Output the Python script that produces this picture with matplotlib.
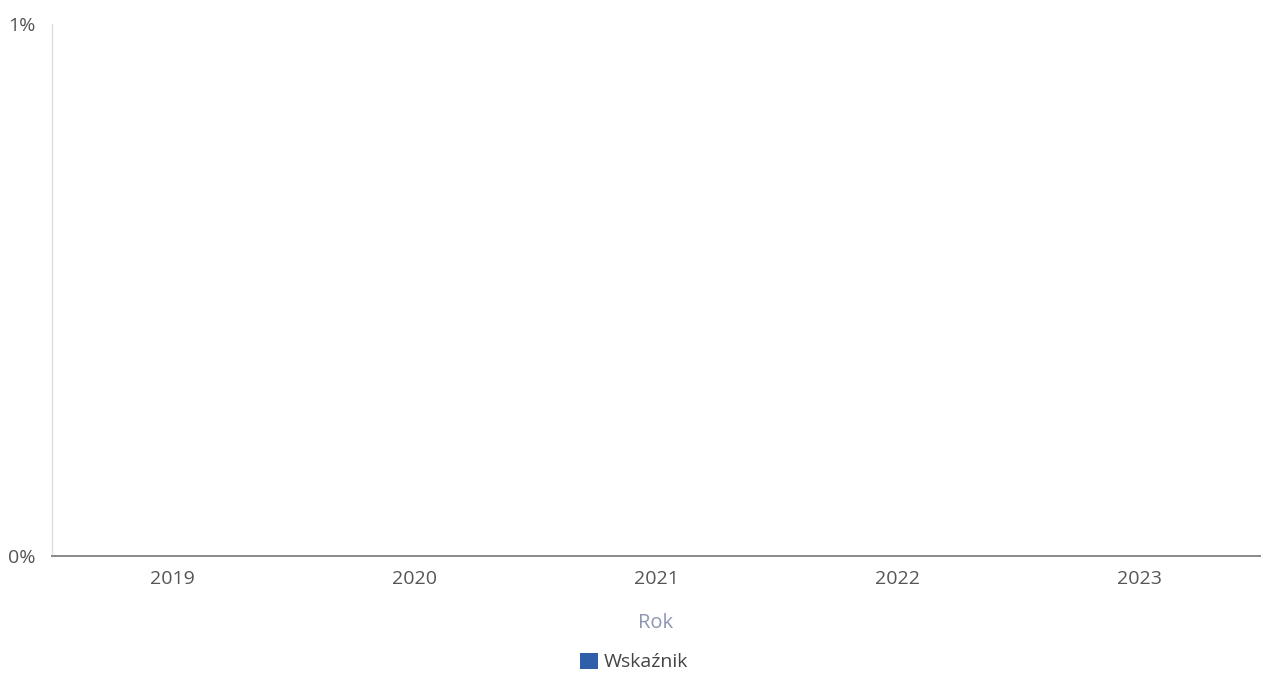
import matplotlib
matplotlib.use("Agg")
import matplotlib.pyplot as plt

plt.rcParams['font.family'] = ['Open Sans', 'DejaVu Sans']

years = ["2019", "2020", "2021", "2022", "2023"]
values = [0, 0, 0, 0, 0]
series_name = "Wskaźnik"
y_ticks = [0, 0.01]
y_tick_labels = ["0%", "1%"]

fig = plt.figure(figsize=(12.63, 6.76), dpi=100)
ax = fig.add_axes([52/1263, 1 - 556/676, (1260-52)/1263, (556-24)/676])

x = list(range(len(years)))
ax.bar(x, values, width=0.6, color="#2f5fa8", label=series_name)
ax.set_xlim(-0.5, len(years) - 0.5)
ax.set_ylim(0, 0.01)
ax.set_xticks(x)
ax.set_xticklabels(years)
ax.set_yticks(y_ticks)
ax.set_yticklabels(y_tick_labels)
ax.tick_params(axis='both', length=0, labelsize=14, colors="#555555")
ax.tick_params(axis='x', pad=10)
ax.tick_params(axis='y', pad=12)

for s in ["top", "right"]:
    ax.spines[s].set_visible(False)
ax.spines["left"].set_color("#dddddd")
ax.spines["left"].set_linewidth(1)
ax.spines["bottom"].set_color("#8a8a8a")
ax.spines["bottom"].set_linewidth(1.4)

ax.set_xlabel("Rok", fontsize=14.5, color="#8f95b2", labelpad=18)

handles, labels = ax.get_legend_handles_labels()
fig.legend(handles, labels, loc="center", bbox_to_anchor=(634/1263, 1 - 662/676),
           frameon=False, fontsize=14, handlelength=0.9, handleheight=0.9,
           handletextpad=0.3, labelcolor="#444444")

fig.savefig("out.png", dpi=100, facecolor="white")
